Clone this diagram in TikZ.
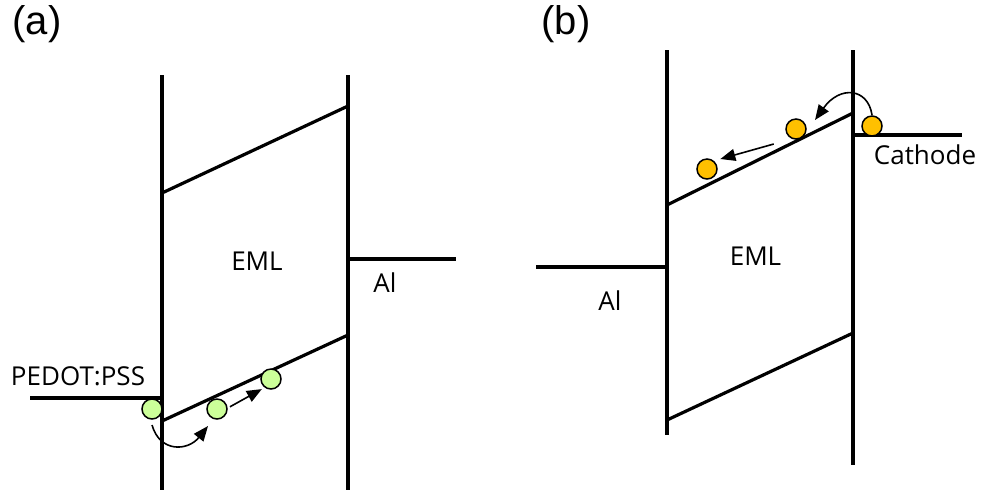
\documentclass[tikz,border=0pt]{standalone}
\usepackage{fontspec}
\setmainfont{Liberation Sans}
\newfontfamily\labelfont{Open Sans}
\usetikzlibrary{arrows.meta,calc}
\definecolor{holegreen}{HTML}{CCFF99}
\definecolor{elecorange}{HTML}{FFC000}
\tikzset{
  band/.style={line width=1.6pt},
  arr/.style={line width=0.8pt,-{Triangle[length=7.5pt,width=6pt]}},
  carrier/.style={circle,draw,line width=0.75pt,inner sep=0pt,minimum size=10pt},
  lbl/.style={font=\labelfont\fontsize{13}{15}\selectfont},
  tag/.style={font=\fontsize{20}{24}\selectfont}
}
\begin{document}
\begin{tikzpicture}[x=0.5pt,y=-0.5pt]
\useasboundingbox (0,0) rectangle (984,495);
% (a) hole injection from PEDOT:PSS
\begin{scope}
\node[tag] (taga) at (37,24) {(a)};
\draw[band] (162,75)--(162,490);\draw[band] (348,75)--(348,490);
\draw[band] (162,193)--(348,106);
\draw[band] (162,421)--(348,335);
\draw[band] (348,259)--(456,259);
\draw[band] (30,398)--(162,398);
\node[lbl] (emla) at (257,261.5) {EML};
\node[lbl] (ala) at (385,283) {Al};
\node[lbl] (pedot) at (78,376) {PEDOT:PSS};
\node[carrier,fill=holegreen] (h1) at (152,409) {};
\node[carrier,fill=holegreen] (h2) at (217,409) {};
\node[carrier,fill=holegreen] (h3) at (271,379) {};
\draw[arr] ($(h1)+(0,16)$) .. controls +(8,28) and +(-20,25) .. ($(h2)+(-9,17)$);
\draw[arr] ($(h2)!0.24!(h3)+(0,5)$) -- ($(h2)!0.83!(h3)+(0,5)$);
\end{scope}
% (b) electron injection from cathode
\begin{scope}
\node[tag] (tagb) at (566,24) {(b)};
\draw[band] (667,50)--(667,435);\draw[band] (853,50)--(853,465);
\draw[band] (667,205)--(853,113);
\draw[band] (667,420)--(853,333);
\draw[band] (536,267)--(667,267);
\draw[band] (853,135)--(962,135);
\node[lbl] (emlb) at (755.5,256) {EML};
\node[lbl] (alb) at (610,301) {Al};
\node[lbl] (cathode) at (925,155) {Cathode};
\node[carrier,fill=elecorange] (e1) at (872,126) {};
\node[carrier,fill=elecorange] (e2) at (796,129) {};
\node[carrier,fill=elecorange] (e3) at (707,169) {};
\draw[arr] ($(e1)+(0,-11)$) .. controls +(-4,-27) and +(25,-35) .. (815,120);
\draw[arr] ($(e2)!0.25!(e3)+(0,5)$) -- ($(e2)!0.85!(e3)+(0,-4)$);
\end{scope}
\end{tikzpicture}
\end{document}
